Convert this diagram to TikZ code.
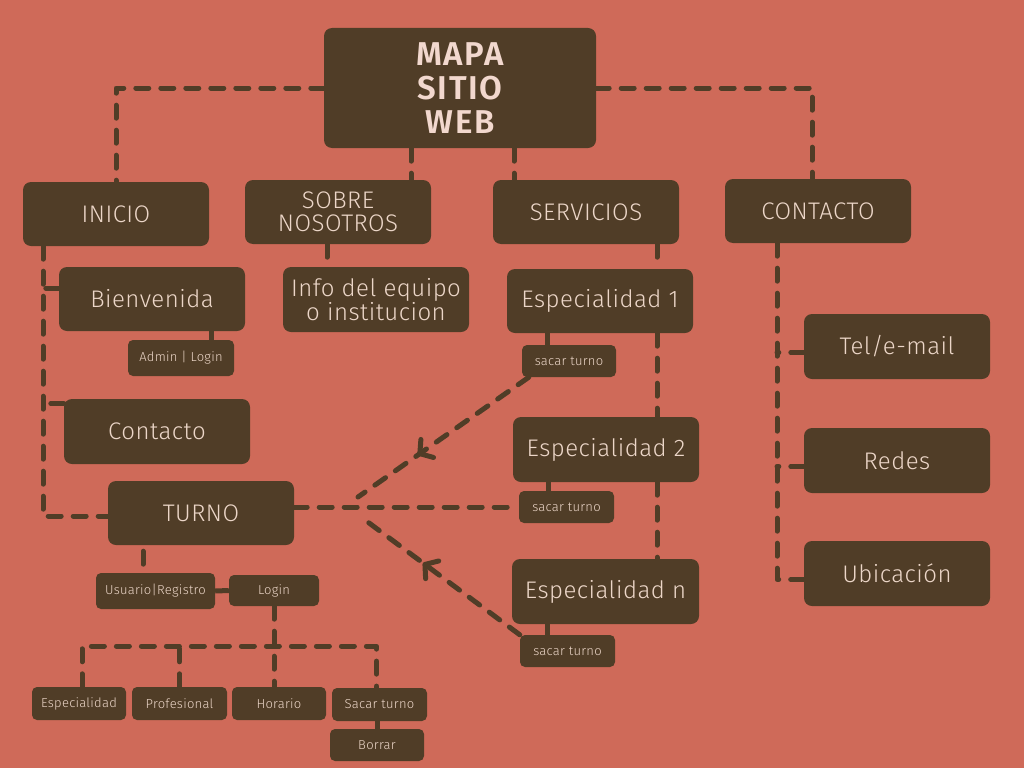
\documentclass[tikz,border=0pt]{standalone}
\usepackage{fontspec}
\setmainfont{Fira Sans}[UprightFont=* Light, BoldFont=* SemiBold, LetterSpace=2]
\usetikzlibrary{arrows.meta,decorations.markings}

\definecolor{coral}{RGB}{207,106,89}
\definecolor{cafe}{RGB}{80,61,39}
\definecolor{crema}{RGB}{236,214,200}
\definecolor{rosa}{RGB}{242,216,206}

\begin{document}
\begin{tikzpicture}[x=1pt, y=-1pt,
    caja/.style={fill=cafe, text=crema, rounded corners=8pt, inner sep=0pt, align=center, font=\fontsize{24}{23}\selectfont},
    grande/.style={caja, minimum width=186pt, minimum height=64pt},
    chica/.style={caja, rounded corners=5pt, minimum width=94pt, minimum height=32pt, font=\fontsize{13}{14}\selectfont},
    dline/.style={draw=cafe, line width=5pt, line cap=round, line join=round, dash pattern=on 13pt off 12pt},
    sline/.style={draw=cafe, line width=5pt},
    flecha/.style={postaction={decorate}, decoration={markings, mark=at position #1 with {\arrow[line width=5pt]{Straight Barb[length=9pt,width=22pt,round]}}}}
  ]
  \fill[coral] (0,0) rectangle (1024,768);

  % raiz y secciones
  \node[caja, minimum width=272pt, minimum height=120pt, text=rosa, font=\fontsize{33}{34}\selectfont\bfseries\addfontfeatures{LetterSpace=5}] (mapa) at (460,88) {MAPA\\SITIO\\WEB};
  \node[grande] (inicio) at (116,214) {INICIO};
  \node[grande] (sobre) at (338,212) {SOBRE\\NOSOTROS};
  \node[grande] (servicios) at (586,212) {SERVICIOS};
  \node[grande] (contacto) at (818,211) {CONTACTO};

  % inicio
  \node[grande] (bienv) at (152,299) {Bienvenida};
  \node[chica, minimum width=106pt, minimum height=36pt] (admin) at (181,358) {Admin | Login};
  \node[grande, minimum height=65pt] (contactoi) at (157,431.5) {Contacto};
  \node[grande] (turno) at (201,513) {TURNO};
  \node[chica, minimum width=119pt, minimum height=36pt] (usuario) at (155.5,591) {Usuario|Registro};
  \node[chica, minimum width=90pt, minimum height=31pt] (login) at (274,590.5) {Login};
  \node[chica, minimum height=33pt] (espc) at (79,703.5) {Especialidad};
  \node[chica, minimum width=95pt, minimum height=33pt] (prof) at (179.5,703.5) {Profesional};
  \node[chica, minimum height=33pt] (horario) at (279,703.5) {Horario};
  \node[chica, minimum width=95pt, minimum height=33pt] (sacart) at (379.5,704.5) {Sacar turno};
  \node[chica] (borrar) at (377,745) {Borrar};

  % sobre nosotros
  \node[grande, minimum height=65pt, font=\fontsize{24}{22}\selectfont] (info) at (376,299.5) {Info del equipo\\o institucion};

  % servicios
  \node[grande] (esp1) at (600,301) {Especialidad 1};
  \node[chica] (sacar1) at (569,361) {sacar turno};
  \node[grande, minimum height=65pt] (esp2) at (606,449.5) {Especialidad 2};
  \node[chica, minimum width=95pt] (sacar2) at (566.5,507) {sacar turno};
  \node[grande, minimum width=187pt, minimum height=65pt] (espn) at (605.5,591.5) {Especialidad n};
  \node[chica, minimum width=95pt] (sacarn) at (567.5,651) {sacar turno};

  % contacto
  \node[grande, minimum height=65pt] (tel) at (897,346.5) {Tel/e-mail};
  \node[grande, minimum height=65pt] (redes) at (897,460.5) {Redes};
  \node[grande, minimum height=65pt] (ubic) at (897,573.5) {Ubicación};

  % conexiones raiz
  \draw[dline] (mapa.west) -| (inicio.north);
  \draw[dline] (mapa.east) -| ([xshift=-6pt]contacto.north);
  \coordinate (m1) at ([xshift=-49pt]mapa.south);
  \coordinate (m2) at ([xshift=54pt]mapa.south);
  \draw[dline] (m1) -- (m1 |- sobre.north);
  \draw[dline] (m2) -- (m2 |- servicios.north);

  % conexiones inicio
  \coordinate (itronco) at ([xshift=-73pt]inicio.south);
  \draw[dline] (itronco) |- ([yshift=-3pt]turno.west);
  \draw[dline] ([yshift=11pt]bienv.west) -- ([yshift=11pt]bienv.west -| itronco);
  \draw[dline] ([yshift=28pt]contactoi.west) -- ([yshift=28pt]contactoi.west -| itronco);
  \draw[sline] ([xshift=30pt]admin.north) coordinate (a1) -- (a1 |- bienv.south);
  \coordinate (u1) at ([xshift=-58pt]turno.south);
  \draw[dline, shorten <=6pt, shorten >=6pt] (u1) -- (u1 |- usuario.north);
  \draw[sline] (usuario.east) -- (login.west);
  \coordinate (bus) at ([yshift=-40pt]login.south);
  \draw[dline] (login.south) -- (login.south |- horario.north);
  \draw[dline] ([xshift=3pt]espc.north) |- ([xshift=-3pt]sacart.north |- bus) -- ([xshift=-3pt]sacart.north);
  \draw[dline] (prof.north) -- (prof.north |- bus);
  \draw[sline] (borrar.north) -- (borrar.north |- sacart.south);

  % conexiones sobre nosotros
  \coordinate (s1) at ([xshift=-11pt]sobre.south);
  \draw[dline] (s1) -- (s1 |- info.north);

  % conexiones servicios
  \coordinate (stronco) at ([xshift=71pt]servicios.south);
  \draw[dline] (stronco) -- (stronco |- esp1.north);
  \draw[dline] (stronco |- esp1.south) -- (stronco |- esp2.north);
  \draw[dline] (stronco |- esp2.south) -- (stronco |- espn.north);
  \draw[sline] ([xshift=-22pt]sacar1.north) coordinate (t1) -- (t1 |- esp1.south);
  \draw[sline] ([xshift=-18pt]sacar2.north) coordinate (t2) -- (t2 |- esp2.south);
  \draw[sline] ([xshift=-20pt]sacarn.north) coordinate (t3) -- (t3 |- espn.south);
  \draw[dline] (turno.east |- sacar2.west) -- (sacar2.west);
  \coordinate (hubA) at (358,497);
  \coordinate (hubB) at (361,517);
  \draw[dline, flecha=0.65] ([xshift=7pt]sacar1.south west) -- (hubA);
  \draw[dline, flecha=0.61] (sacarn.north west) -- (hubB);

  % conexiones contacto
  \coordinate (ctronco) at ([xshift=-41pt]contacto.south);
  \draw[dline] (ctronco) |- ([yshift=-6pt]ubic.west);
  \draw[dline] ([yshift=-6pt]tel.west) -- ([yshift=-6pt]tel.west -| ctronco);
  \draw[dline] ([yshift=-6pt]redes.west) -- ([yshift=-6pt]redes.west -| ctronco);
\end{tikzpicture}
\end{document}
